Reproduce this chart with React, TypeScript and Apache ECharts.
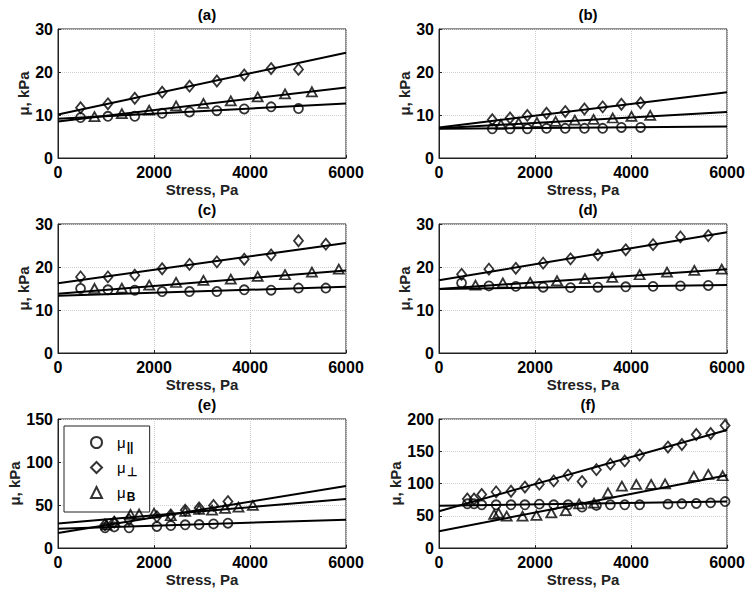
import React, { useEffect, useRef } from 'react';
import * as echarts from 'echarts';

const FONT = '"Liberation Sans", Arial, Helvetica, sans-serif';

// ---------- data (Stress in Pa, modulus in kPa) ----------
const panelTitles = ['(a)', '(b)', '(c)', '(d)', '(e)', '(f)'];
const xTicks = [0, 2000, 4000, 6000];
const yMaxes = [30, 30, 30, 30, 150, 200];
const yIntervals = [10, 10, 10, 10, 50, 50];

// (a)
const aX = [470, 1040, 1600, 2170, 2740, 3310, 3880, 4440, 5010];
const aPar = [9.4, 9.7, 9.7, 10.4, 10.7, 11.0, 11.4, 11.9, 11.5];
const aPerp = [11.7, 12.6, 13.9, 15.3, 16.7, 17.9, 19.3, 20.8, 20.6];
const aBX = [760, 1330, 1900, 2460, 3030, 3600, 4160, 4730, 5290];
const aB = [9.6, 10.3, 11.1, 12.1, 12.7, 13.3, 14.2, 14.9, 15.4];
const aFitPar = [9.1, 12.7];
const aFitPerp = [10.1, 24.5];
const aFitB = [8.5, 16.4];

// (b)
const bX = [1110, 1480, 1840, 2240, 2630, 3030, 3410, 3800, 4200];
const bPar = [6.8, 6.8, 6.8, 6.9, 6.9, 6.9, 6.9, 7.1, 7.1];
const bPerp = [8.9, 9.3, 9.9, 10.4, 10.8, 11.4, 11.9, 12.5, 12.8];
const bBX = [1290, 1660, 2040, 2430, 2830, 3220, 3620, 4010, 4400];
const bB = [7.8, 8.2, 8.3, 8.5, 8.8, 9.0, 9.3, 9.7, 9.9];
const bFitPar = [6.8, 7.3];
const bFitPerp = [7.1, 15.3];
const bFitB = [6.9, 10.7];

// (c)
const cX = [470, 1040, 1600, 2170, 2740, 3310, 3880, 4440, 5010, 5580];
const cPar = [15.0, 14.7, 14.6, 14.3, 14.3, 14.3, 14.7, 14.6, 15.1, 15.1];
const cPerp = [17.7, 17.7, 18.1, 19.6, 20.6, 21.2, 21.8, 22.8, 26.1, 25.3];
const cBX = [760, 1330, 1900, 2460, 3030, 3600, 4160, 4730, 5290, 5850];
const cB = [15.0, 15.1, 15.8, 16.4, 16.9, 17.2, 17.8, 18.2, 18.8, 19.5];
const cFitPar = [13.3, 15.4];
const cFitPerp = [16.2, 25.6];
const cFitB = [13.8, 19.2];

// (d)
const dX = [470, 1040, 1600, 2170, 2740, 3310, 3890, 4460, 5030, 5610];
const dPar = [16.3, 15.6, 15.5, 15.3, 15.2, 15.3, 15.4, 15.5, 15.6, 15.7];
const dPerp = [18.3, 19.5, 19.7, 20.9, 21.9, 22.8, 24.0, 25.2, 27.0, 27.3];
const dBX = [760, 1330, 1900, 2460, 3040, 3610, 4180, 4750, 5320, 5890];
const dB = [15.8, 16.3, 16.4, 16.8, 17.3, 17.6, 18.2, 18.8, 19.2, 19.5];
const dFitPar = [14.9, 15.8];
const dFitPerp = [16.9, 28.1];
const dFitB = [14.9, 19.5];

// (e)
const eX = [980, 1170, 1480, 2060, 2350, 2650, 2940, 3240, 3540];
const ePar = [23.5, 24.5, 23.5, 25.0, 26.0, 27.0, 27.3, 28.0, 28.8];
const ePerp = [27, 30, 33, 36.5, 38.5, 44, 46.5, 49.5, 54];
const eBX = [1010, 1180, 1510, 1690, 2000, 2350, 2650, 2940, 3210, 3480, 3760, 4060];
const eB = [27, 30.5, 39, 39.5, 40.5, 37.5, 42.5, 45, 44, 46, 47.5, 49.5];
const eFitPar = [22.5, 32.8];
const eFitPerp = [17.5, 72];
const eFitB = [28.5, 57];

// (f)
const fX = [590, 730, 890, 1190, 1500, 1790, 2090, 2390, 2690, 2980, 3280, 3570, 3870, 4180, 4770, 5060, 5360, 5660, 5960];
const fPar = [68.5, 68.5, 67, 67, 67, 67, 68, 67, 67, 63.5, 66, 67, 67, 67, 68, 68.5, 69, 70, 72];
const fPerp = [76, 76, 83, 87, 88, 94.5, 99, 104, 113, 103, 121.5, 130, 135, 144, 156.5, 160.5, 176, 177.5, 190];
const fBX = [1150, 1240, 1410, 1740, 2030, 2340, 2640, 2920, 3230, 3520, 3810, 4110, 4420, 4710, 5310, 5610, 5910];
const fB = [52, 54, 49.5, 49.5, 50.5, 54.5, 58, 68.5, 69.5, 85.5, 96, 98.5, 98.5, 99.5, 111, 114, 112];
const fFitPar = [65.5, 72];
const fFitPerp = [57, 183];
const fFitB = [26, 112.7];

const fitRange = [0, 6000];

const legendNames = ['μ∥', 'μ⊥', 'μB'];

type Panel = {
  x: number[]; par: number[]; perp: number[]; bx: number[]; b: number[];
  fitPar: number[]; fitPerp: number[]; fitB: number[];
};

const panelData: Panel[] = [
  { x: aX, par: aPar, perp: aPerp, bx: aBX, b: aB, fitPar: aFitPar, fitPerp: aFitPerp, fitB: aFitB },
  { x: bX, par: bPar, perp: bPerp, bx: bBX, b: bB, fitPar: bFitPar, fitPerp: bFitPerp, fitB: bFitB },
  { x: cX, par: cPar, perp: cPerp, bx: cBX, b: cB, fitPar: cFitPar, fitPerp: cFitPerp, fitB: cFitB },
  { x: dX, par: dPar, perp: dPerp, bx: dBX, b: dB, fitPar: dFitPar, fitPerp: dFitPerp, fitB: dFitB },
  { x: eX, par: ePar, perp: ePerp, bx: eBX, b: eB, fitPar: eFitPar, fitPerp: eFitPerp, fitB: eFitB },
  { x: fX, par: fPar, perp: fPerp, bx: fBX, b: fB, fitPar: fFitPar, fitPerp: fFitPerp, fitB: fFitB },
];

// ---------- layout ----------
const GRID_POS = [[58, 29], [439, 29], [58, 224], [439, 224], [58, 419], [439, 419]];
const GW = 288;
const GH = 129;

function zip(xs: number[], ys: number[]) {
  return xs.map((x, i) => [x, ys[i]]);
}

function buildOption() {
  const grids: any[] = [];
  const xAxes: any[] = [];
  const yAxes: any[] = [];
  const titles: any[] = [];
  const series: any[] = [];

  const markerStyle = {
    color: 'rgba(255,255,255,0)',
    borderColor: '#000',
    borderWidth: 1.8,
  };

  panelData.forEach((p, i) => {
    const [left, top] = GRID_POS[i];
    grids.push({
      left, top, width: GW, height: GH,
      show: true, borderColor: '#222', borderWidth: 1, backgroundColor: '#fff',
    });
    titles.push({
      text: panelTitles[i],
      left: left + GW / 2,
      top: top - 27,
      textAlign: 'center',
      textStyle: { fontFamily: FONT, fontSize: 15, fontWeight: 'bold', color: '#000' },
    });
    xAxes.push({
      type: 'value', gridIndex: i, min: xTicks[0], max: xTicks[xTicks.length - 1], interval: 2000,
      name: 'Stress, Pa', nameLocation: 'middle', nameGap: 24,
      nameTextStyle: { fontFamily: FONT, fontSize: 15, fontWeight: 'bold', color: '#222' },
      axisLine: { show: true, lineStyle: { color: '#222', width: 1 } },
      axisTick: { show: true, inside: true, length: 3, lineStyle: { color: '#222' } },
      axisLabel: {
        margin: 6, fontFamily: FONT, fontSize: 16, fontWeight: 'bold', color: '#000',
        formatter: (v: number) => String(v),
      },
      splitLine: { show: true, lineStyle: { color: '#cfcfcf', type: 'dotted', width: 1 } },
    });
    yAxes.push({
      type: 'value', gridIndex: i, min: 0, max: yMaxes[i], interval: yIntervals[i],
      name: 'μ, kPa', nameLocation: 'middle', nameGap: i % 2 === 0 ? 19 : 17,
      nameTextStyle: { fontFamily: FONT, fontSize: 15, fontWeight: 'bold', color: '#222' },
      axisLine: { show: true, lineStyle: { color: '#222', width: 1 } },
      axisTick: { show: true, inside: true, length: 3, lineStyle: { color: '#222' } },
      axisLabel: {
        margin: 5, fontFamily: FONT, fontSize: 16, fontWeight: 'bold', color: '#000',
        formatter: (v: number) => String(v),
      },
      splitLine: { show: true, lineStyle: { color: '#cfcfcf', type: 'dotted', width: 1 } },
    });

    const isLegendPanel = i === 4;
    const names = isLegendPanel ? legendNames : [`par${i}`, `perp${i}`, `B${i}`];

    const fits = [p.fitPar, p.fitPerp, p.fitB];
    fits.forEach((f, k) => {
      series.push({
        type: 'line', name: `fit${i}_${k}`, xAxisIndex: i, yAxisIndex: i,
        data: zip(fitRange, f), showSymbol: false, symbol: 'none', silent: true,
        lineStyle: { color: '#000', width: 2 }, z: 3,
      });
    });

    series.push({
      type: 'scatter', name: names[0], xAxisIndex: i, yAxisIndex: i,
      data: zip(p.x, p.par), symbol: 'circle', symbolSize: 9, itemStyle: markerStyle, z: 4,
    });
    series.push({
      type: 'scatter', name: names[1], xAxisIndex: i, yAxisIndex: i,
      data: zip(p.x, p.perp), symbol: 'diamond', symbolSize: [9, 11], itemStyle: markerStyle, z: 4,
    });
    series.push({
      type: 'scatter', name: names[2], xAxisIndex: i, yAxisIndex: i,
      data: zip(p.bx, p.b), symbol: 'triangle', symbolSize: [10, 9], itemStyle: markerStyle, z: 4,
    });
  });

  const subMap: Record<string, string> = {
    'μ∥': '{m|μ}{s|||}',
    'μ⊥': '{m|μ}{s|⊥}',
    'μB': '{m|μ}{s|B}',
  };

  return {
    animation: false,
    backgroundColor: '#fff',
    title: titles,
    grid: grids,
    xAxis: xAxes,
    yAxis: yAxes,
    legend: {
      data: legendNames,
      orient: 'vertical',
      left: 64,
      top: 426,
      padding: [9, 13, 9, 26],
      itemGap: 7,
      itemWidth: 11,
      itemHeight: 11,
      borderColor: '#222',
      borderWidth: 1,
      backgroundColor: '#fff',
      selectedMode: false,
      formatter: (name: string) => subMap[name] || name,
      textStyle: {
        fontFamily: FONT,
        color: '#000',
        rich: {
          m: { fontFamily: FONT, fontSize: 15, color: '#000', padding: [0, 0, 0, 10] },
          s: { fontFamily: FONT, fontSize: 12, fontWeight: 'bold', color: '#000', padding: [9, 0, 0, 1] },
        },
      },
    },
    series,
  };
}

export default function App() {
  const ref = useRef<HTMLDivElement>(null);
  useEffect(() => {
    if (!ref.current) return;
    const chart = echarts.init(ref.current, null, { renderer: 'svg' });
    chart.setOption(buildOption() as any);
    return () => chart.dispose();
  }, []);
  return (
    <div
      ref={ref}
      style={{ position: 'absolute', left: 0, top: 0, width: 751, height: 595, background: '#fff' }}
    />
  );
}
